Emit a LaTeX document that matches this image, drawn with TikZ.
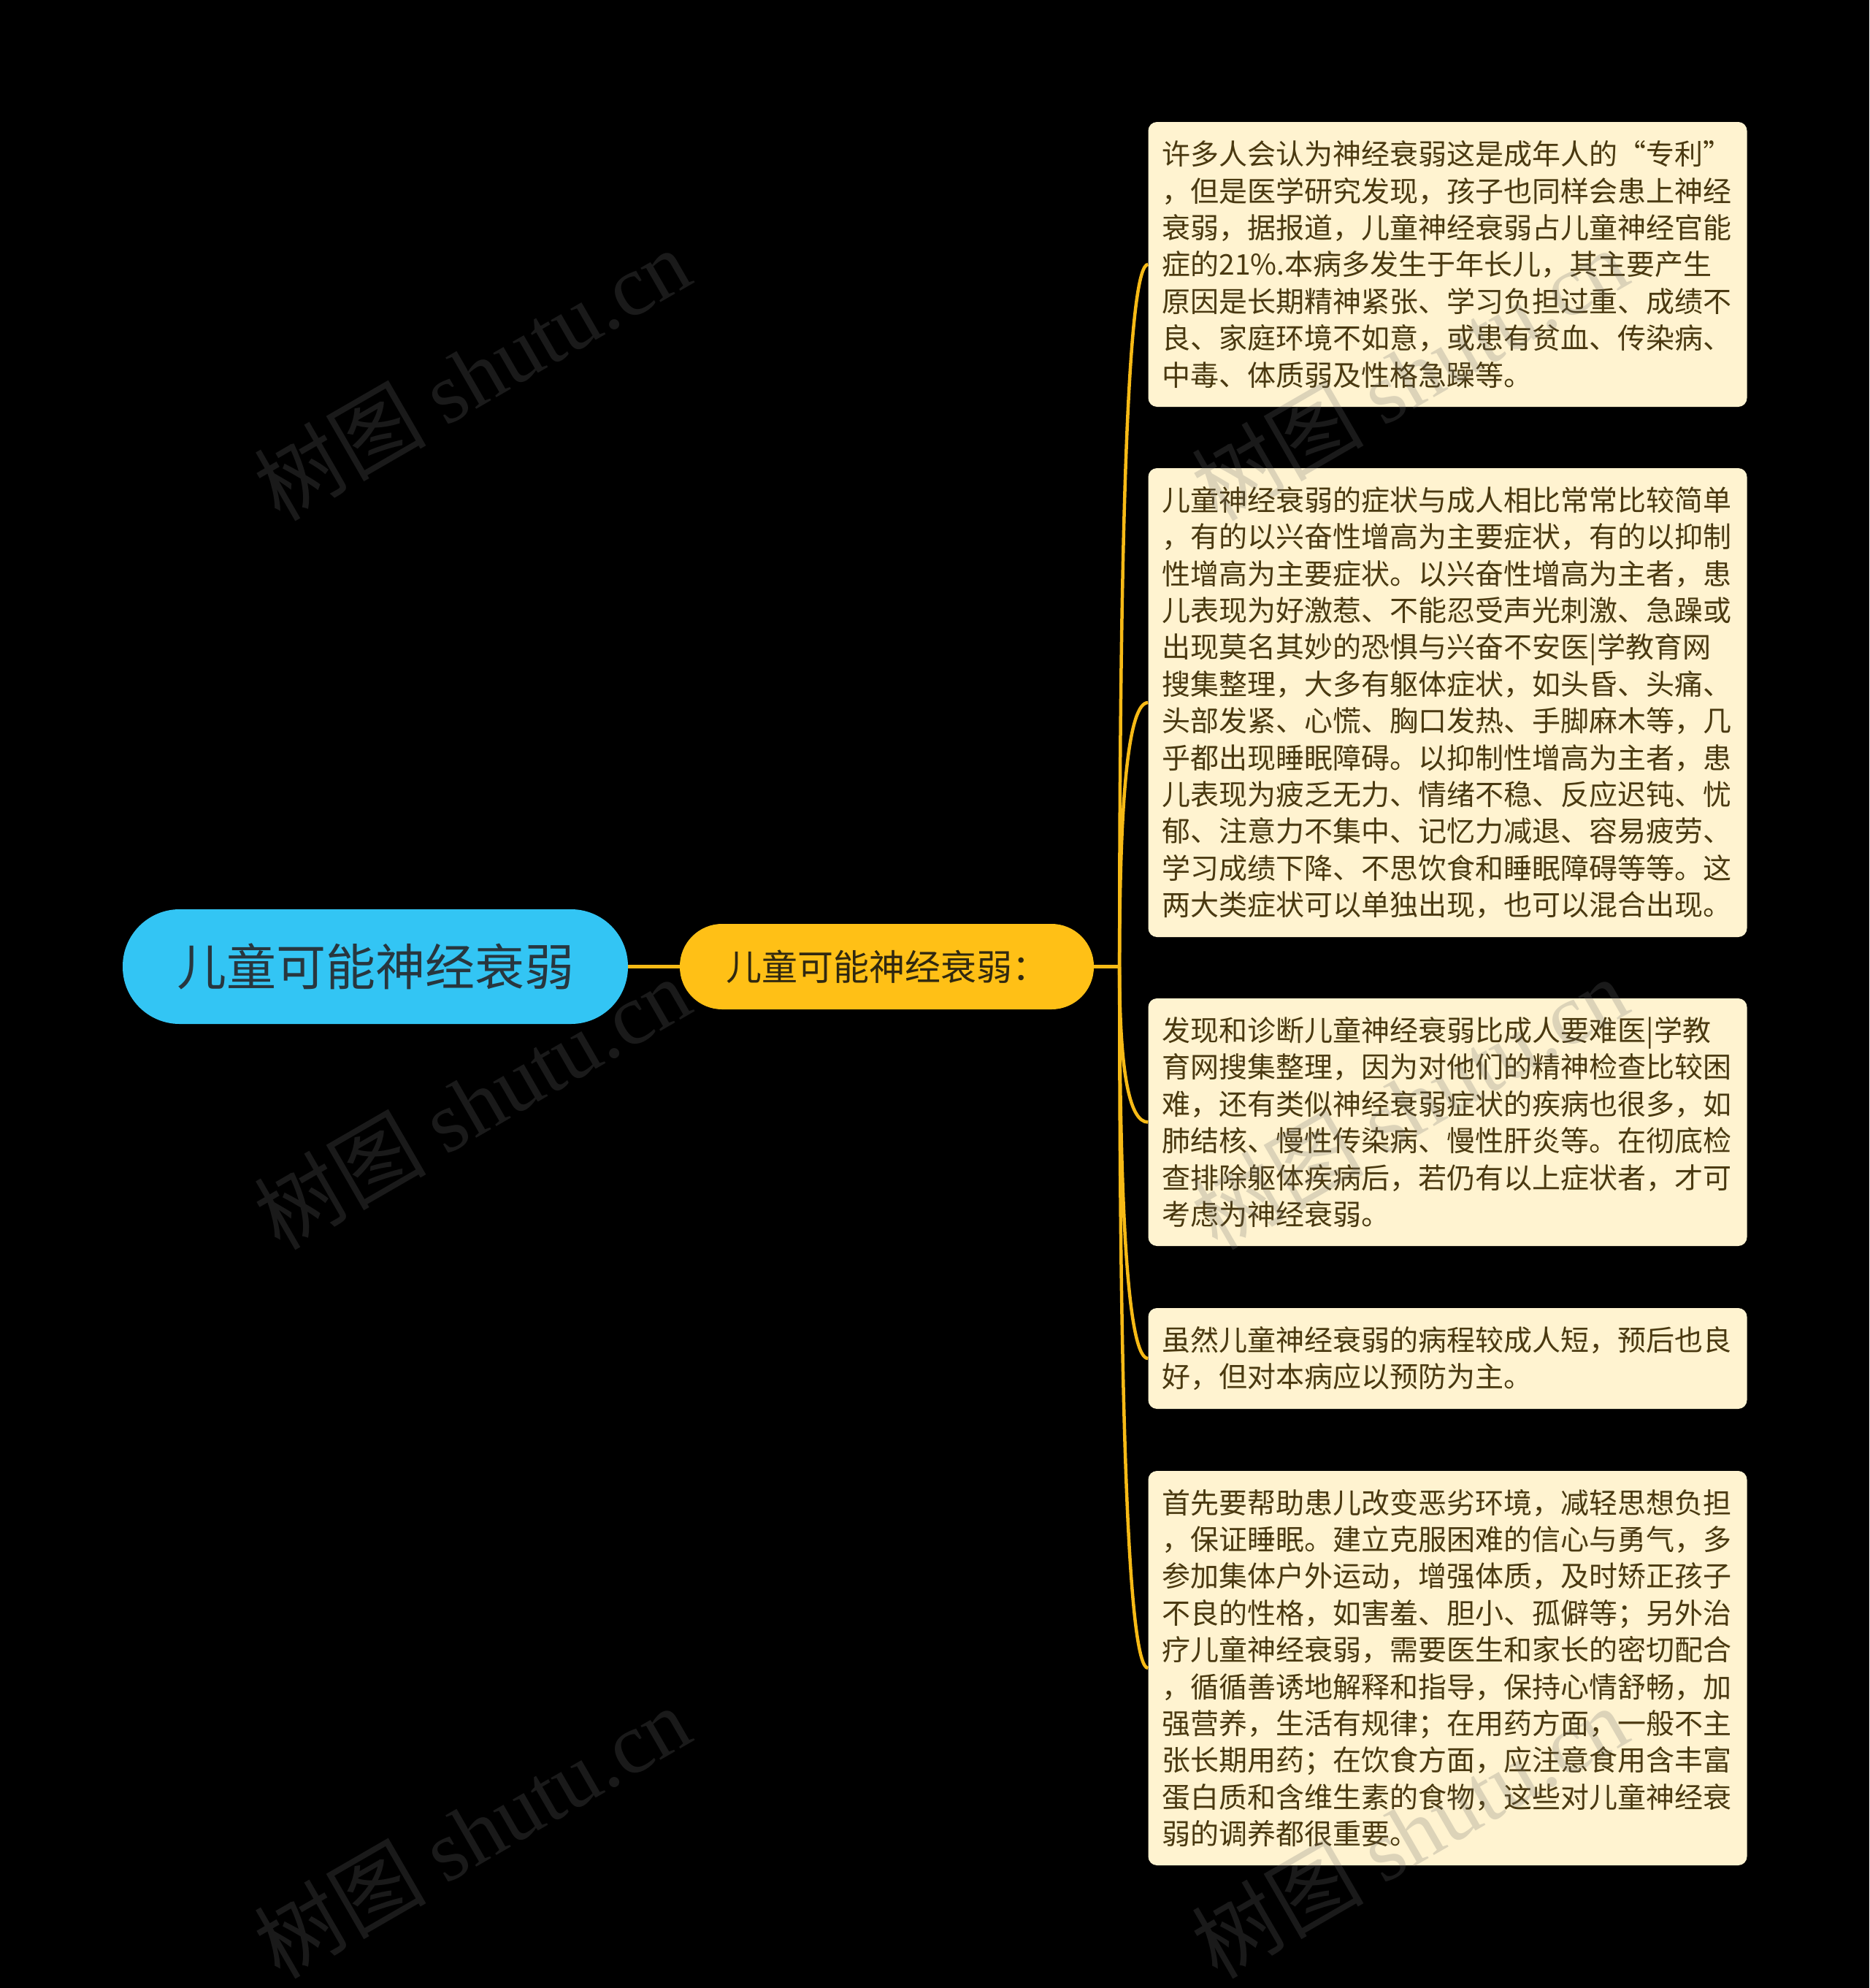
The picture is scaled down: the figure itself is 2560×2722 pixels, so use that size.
\documentclass[tikz,border=0pt]{standalone}
\usepackage{fontspec}
\setmainfont{Noto Sans CJK SC}
\newfontfamily\wmlat{Liberation Serif}
\usetikzlibrary{calc}
\definecolor{rootblue}{RGB}{51,197,244}
\definecolor{roottext}{RGB}{40,54,62}
\definecolor{midfill}{RGB}{255,192,22}
\definecolor{midtext}{RGB}{48,40,16}
\definecolor{leafbg}{RGB}{255,243,208}
\definecolor{leaftext}{RGB}{74,57,16}
\definecolor{connc}{RGB}{247,186,22}
\definecolor{wmgray}{RGB}{110,110,110}
\begin{document}
\begin{tikzpicture}[x=1pt,y=-1pt,
  rootbox/.style={rectangle, rounded corners=78pt, fill=rootblue, minimum width=692pt, minimum height=157pt, inner sep=0pt, text=roottext, font=\fontsize{68}{80}\selectfont},
  midbox/.style={rectangle, rounded corners=58pt, fill=midfill, minimum width=567pt, minimum height=117pt, inner sep=0pt, text=midtext, font=\fontsize{49}{58}\selectfont},
  leafbox/.style={rectangle, rounded corners=12pt, fill=leafbg, text=leaftext, text width=782pt, align=left, inner xsep=19pt, inner ysep=0pt, font=\fontsize{39}{50.4}\selectfont},
  conn/.style={draw=connc, line width=4.5pt},
  wm/.style={text=wmgray, opacity=0.24, rotate=30, font=\fontsize{118}{130}\selectfont, inner sep=0pt}
]
\useasboundingbox (0,0) rectangle (2560,2722);
\fill[black] (0,0) rectangle (2560,2722);

\node[rootbox] (root) at (514,1323.5) {儿童可能神经衰弱};
\node[midbox] (mid) at (1214.5,1323.5) {儿童可能神经衰弱：};

\node[leafbox, minimum height=390pt] (l1) at (1982.5,362) {许多人会认为神经衰弱这是成年人的“专利”\\，但是医学研究发现，孩子也同样会患上神经\\衰弱，据报道，儿童神经衰弱占儿童神经官能\\症的21\%.本病多发生于年长儿，其主要产生\\原因是长期精神紧张、学习负担过重、成绩不\\良、家庭环境不如意，或患有贫血、传染病、\\中毒、体质弱及性格急躁等。};

\node[leafbox, minimum height=642pt] (l2) at (1982.5,962) {儿童神经衰弱的症状与成人相比常常比较简单\\，有的以兴奋性增高为主要症状，有的以抑制\\性增高为主要症状。以兴奋性增高为主者，患\\儿表现为好激惹、不能忍受声光刺激、急躁或\\出现莫名其妙的恐惧与兴奋不安医|学教育网\\搜集整理，大多有躯体症状，如头昏、头痛、\\头部发紧、心慌、胸口发热、手脚麻木等，几\\乎都出现睡眠障碍。以抑制性增高为主者，患\\儿表现为疲乏无力、情绪不稳、反应迟钝、忧\\郁、注意力不集中、记忆力减退、容易疲劳、\\学习成绩下降、不思饮食和睡眠障碍等等。这\\两大类症状可以单独出现，也可以混合出现。};

\node[leafbox, minimum height=339pt] (l3) at (1982.5,1536.5) {发现和诊断儿童神经衰弱比成人要难医|学教\\育网搜集整理，因为对他们的精神检查比较困\\难，还有类似神经衰弱症状的疾病也很多，如\\肺结核、慢性传染病、慢性肝炎等。在彻底检\\查排除躯体疾病后，若仍有以上症状者，才可\\考虑为神经衰弱。};

\node[leafbox, minimum height=138pt] (l4) at (1982.5,1860) {虽然儿童神经衰弱的病程较成人短，预后也良\\好，但对本病应以预防为主。};

\node[leafbox, minimum height=540pt] (l5) at (1982.5,2284) {首先要帮助患儿改变恶劣环境，减轻思想负担\\，保证睡眠。建立克服困难的信心与勇气，多\\参加集体户外运动，增强体质，及时矫正孩子\\不良的性格，如害羞、胆小、孤僻等；另外治\\疗儿童神经衰弱，需要医生和家长的密切配合\\，循循善诱地解释和指导，保持心情舒畅，加\\强营养，生活有规律；在用药方面，一般不主\\张长期用药；在饮食方面，应注意食用含丰富\\蛋白质和含维生素的食物，这些对儿童神经衰\\弱的调养都很重要。};

\coordinate (j) at ($(mid.east)+(35,0)$);
\draw[conn] (root.east) -- (mid.west);
\draw[conn] (mid.east) -- (j);
\foreach \l in {l1,l2,l3,l4,l5}{
  \draw[conn] (j) .. controls ($(j)!0.6667!(j |- \l.west)$) and ($(\l.west)!0.6667!(j |- \l.west)$) .. (\l.west);
}

\node[wm] (w1) at (646,512) {树图 {\wmlat shutu.cn}};
\node[wm] (w2) at (646,1510) {树图 {\wmlat shutu.cn}};
\node[wm] (w3) at (646,2508) {树图 {\wmlat shutu.cn}};
\node[wm] (w4) at (1930,512) {树图 {\wmlat shutu.cn}};
\node[wm] (w5) at (1930,1510) {树图 {\wmlat shutu.cn}};
\node[wm] (w6) at (1930,2508) {树图 {\wmlat shutu.cn}};
\end{tikzpicture}
\end{document}
